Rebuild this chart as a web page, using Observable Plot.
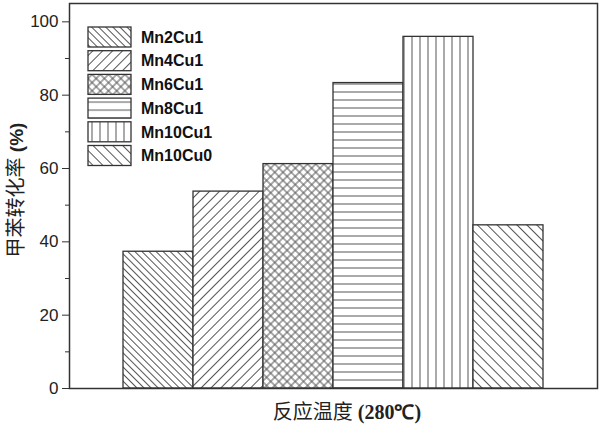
<!DOCTYPE html>
<html>
<head>
<meta charset="utf-8">
<script src="https://cdn.jsdelivr.net/npm/d3@7"></script>
<script src="https://cdn.jsdelivr.net/npm/@observablehq/plot@0.6"></script>
<style>
  body { margin: 0; background: #fff; }
  svg { display: block; }
</style>
</head>
<body>
<div id="chart"></div>
<script>
// Toluene conversion at 280 °C for each Mn/Cu catalyst
const catalysts = ["Mn2Cu1", "Mn4Cu1", "Mn6Cu1", "Mn8Cu1", "Mn10Cu1", "Mn10Cu0"];
const conversion = [37.3, 53.7, 61.2, 83.3, 95.9, 44.5];
const yTicks = [0, 20, 40, 60, 80, 100];
const yMinorTicks = [10, 30, 50, 70, 90];
const yTitleCn = "甲苯转化率";
const yTitleUnit = " (%)";
const xTitleCn = "反应温度";
const xTitleUnit = " (280℃)";

// Hatch fill for each catalyst: line angle, perpendicular spacing, cross-hatched or not
const hatchStyles = [
  { angle: -45, gap: 5,   cross: false },
  { angle: 45,  gap: 7,   cross: false },
  { angle: 45,  gap: 5.8, cross: true  },
  { angle: 90,  gap: 8,   cross: false },
  { angle: 0,   gap: 8,   cross: false },
  { angle: -45, gap: 7,   cross: false }
];
const hatchId = i => `hatch-${i}`;

const rows = catalysts.map((c, i) => ({
  catalyst: c,
  value: conversion[i],
  hatch: `url(#${hatchId(i)})`
}));

const ink = "#333";

const chart = Plot.plot({
  width: 600,
  height: 430,
  marginLeft: 69,
  marginRight: 3,
  marginTop: 3,
  marginBottom: 42,
  style: { background: "#fff", fontFamily: "'Liberation Sans', Arial, sans-serif" },
  x: { type: "band", domain: catalysts, padding: 0, insetLeft: 53, insetRight: 53, axis: null },
  y: { domain: [0, 105], axis: null },
  color: { type: "identity" },
  marks: [
    Plot.barY(rows, {
      x: "catalyst",
      y: "value",
      fill: "hatch",
      stroke: ink,
      strokeWidth: 1.3
    }),
    Plot.axisY({
      ticks: yMinorTicks,
      tickSize: 4,
      tickFormat: () => "",
      label: null,
      stroke: ink
    }),
    Plot.axisY({
      ticks: yTicks,
      tickSize: 7,
      tickPadding: 4,
      label: null,
      stroke: ink,
      fill: "#222",
      fontSize: 17
    }),
    Plot.frame({ stroke: ink, strokeWidth: 1.5 })
  ]
});

document.getElementById("chart").appendChild(chart);

const svg = d3.select(chart);

// Hatch pattern definitions
const defs = svg.insert("defs", ":first-child");
hatchStyles.forEach((h, i) => {
  const p = defs.append("pattern")
    .attr("id", hatchId(i))
    .attr("patternUnits", "userSpaceOnUse")
    .attr("width", h.gap)
    .attr("height", h.gap)
    .attr("patternTransform", `rotate(${h.angle})`);
  p.append("rect").attr("width", h.gap).attr("height", h.gap).attr("fill", "#fff");
  p.append("line")
    .attr("x1", h.gap / 2).attr("y1", 0)
    .attr("x2", h.gap / 2).attr("y2", h.gap)
    .attr("stroke", "#555").attr("stroke-width", 1);
  if (h.cross) {
    p.append("line")
      .attr("x1", 0).attr("y1", h.gap / 2)
      .attr("x2", h.gap).attr("y2", h.gap / 2)
      .attr("stroke", "#555").attr("stroke-width", 1);
  }
});

// Legend in the upper-left corner of the frame
const legend = svg.append("g").attr("transform", "translate(88,27)");
catalysts.forEach((c, i) => {
  const g = legend.append("g").attr("transform", `translate(0,${i * 23.7})`);
  g.append("rect")
    .attr("width", 43).attr("height", 20)
    .attr("fill", `url(#${hatchId(i)})`)
    .attr("stroke", ink).attr("stroke-width", 1.3);
  g.append("text")
    .attr("x", 53).attr("y", 10).attr("dy", "0.36em")
    .attr("text-anchor", "start")
    .attr("font-family", "'Liberation Sans', Arial, sans-serif")
    .attr("font-weight", "bold")
    .attr("font-size", 16)
    .attr("fill", "#111")
    .text(c);
});

// Y axis title
const yTitle = svg.append("text")
  .attr("transform", "translate(19,190) rotate(-90)")
  .attr("text-anchor", "middle")
  .attr("dy", "0.36em")
  .attr("fill", "#222");
yTitle.append("tspan")
  .attr("font-family", "'Noto Sans CJK SC', sans-serif")
  .attr("font-size", 20)
  .text(yTitleCn);
yTitle.append("tspan")
  .attr("font-family", "'Liberation Sans', Arial, sans-serif")
  .attr("font-weight", "bold")
  .attr("font-size", 19)
  .text(yTitleUnit);

// X axis title
const xTitle = svg.append("text")
  .attr("x", 347).attr("y", 419)
  .attr("text-anchor", "middle")
  .attr("fill", "#222");
xTitle.append("tspan")
  .attr("font-family", "'Noto Sans CJK SC', sans-serif")
  .attr("font-size", 20)
  .text(xTitleCn);
xTitle.append("tspan")
  .attr("font-family", "'Liberation Serif', 'Times New Roman', serif")
  .attr("font-weight", "bold")
  .attr("font-size", 20)
  .text(xTitleUnit);
</script>
</body>
</html>
